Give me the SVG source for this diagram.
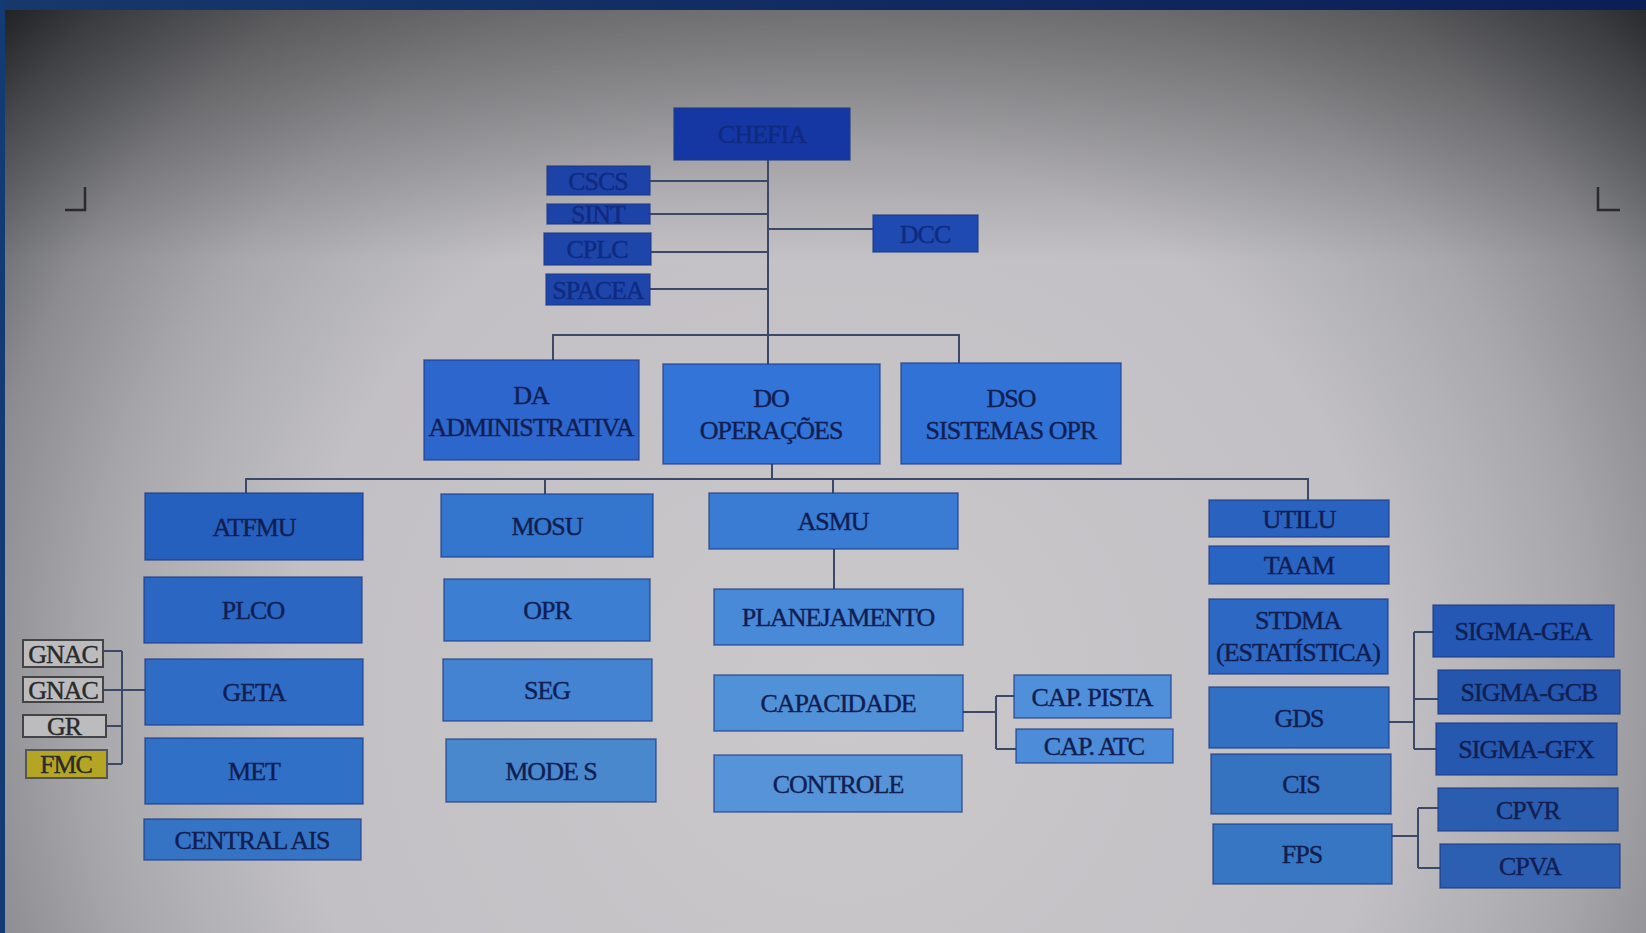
<svg xmlns="http://www.w3.org/2000/svg" width="1646" height="933" viewBox="0 0 1646 933">
<defs>
<radialGradient id="bg" gradientUnits="userSpaceOnUse" cx="840" cy="700" r="1100">
<stop offset="0" stop-color="#cac8ca"/>
<stop offset="0.5" stop-color="#c2c0c4"/>
<stop offset="0.68" stop-color="#a8a8ac"/>
<stop offset="0.8" stop-color="#8c8c90"/>
<stop offset="0.92" stop-color="#5a5c60"/>
<stop offset="1" stop-color="#2c2e32"/>
</radialGradient>
<linearGradient id="topshade" x1="0" y1="0" x2="0" y2="1">
<stop offset="0" stop-color="#000" stop-opacity="0.38"/>
<stop offset="1" stop-color="#000" stop-opacity="0"/>
</linearGradient>
<linearGradient id="frameTop" x1="0" y1="0" x2="1" y2="0">
<stop offset="0" stop-color="#17386a"/>
<stop offset="1" stop-color="#0c1f55"/>
</linearGradient>
</defs>
<style>
.b{stroke:#1d3a86;stroke-width:1.5;stroke-opacity:0.7}
.g{fill:#bcbcbe;stroke:#444;stroke-width:2}
.t{font-family:"Liberation Serif","Times New Roman",serif;font-size:26px;fill:#111e52;stroke:#111e52;stroke-width:0.4;text-anchor:middle;letter-spacing:-1px}
.td{fill:#0f2a80;stroke:#0f2a80}
.tg{fill:#2a2a2a;stroke:#2a2a2a}
.c{fill:none;stroke:#3b4868;stroke-width:2}
.m{fill:none;stroke:#2a2a2e;stroke-width:2.5}
</style>
<rect x="0" y="0" width="1646" height="933" fill="url(#bg)"/>
<rect x="0" y="0" width="1646" height="260" fill="url(#topshade)"/>
<rect x="0" y="0" width="1646" height="10" fill="url(#frameTop)"/>
<rect x="0" y="0" width="5" height="933" fill="#133a72"/>
<path class="m" d="M65 210 H85 V187"/>
<path class="m" d="M1598 187 V210 H1620"/>

<g id="connectors">
<path class="c" d="M768 160 V364"/>
<path class="c" d="M650 181 H768 M650 214 H768 M651 252 H768 M650 289 H768"/>
<path class="c" d="M768 229 H873"/>
<path class="c" d="M553 360 V335 H959 V363"/>
<path class="c" d="M772 464 V479"/>
<path class="c" d="M246 493 V479 H1308 V500"/>
<path class="c" d="M545 479 V494 M833 479 V493"/>
<path class="c" d="M834 549 V589"/>
<path class="c" d="M103 651 H122 M103 690 H145 M106 726 H122 M107 764 H122 M122 651 V764"/>
<path class="c" d="M963 712 H996 M996 696 V749 M996 696 H1014 M996 749 H1016"/>
<path class="c" d="M1389 722 H1414 M1414 632 V749 M1414 632 H1433 M1414 699 H1438 M1414 749 H1436"/>
<path class="c" d="M1392 836 H1418 M1418 808 V868 M1418 808 H1438 M1418 868 H1440"/>
</g>

<g id="chefia"><rect class="b" x="674" y="108" width="176" height="52" fill="#1537a3"/><text class="t td" x="762" y="143">CHEFIA</text></g>
<g id="cscs"><rect class="b" x="547" y="166" width="103" height="29" fill="#1d43a8"/><text class="t td" x="598" y="190">CSCS</text></g>
<g id="sint"><rect class="b" x="547" y="204" width="103" height="20" fill="#1d43a8"/><text class="t td" x="598" y="223">SINT</text></g>
<g id="cplc"><rect class="b" x="544" y="233" width="107" height="32" fill="#1d45aa"/><text class="t td" x="597" y="258">CPLC</text></g>
<g id="spacea"><rect class="b" x="546" y="274" width="104" height="31" fill="#1e46aa"/><text class="t td" x="598" y="299">SPACEA</text></g>
<g id="dcc"><rect class="b" x="873" y="215" width="105" height="37" fill="#1f4ab2"/><text class="t td" x="925" y="243">DCC</text></g>

<g id="da"><rect class="b" x="424" y="360" width="215" height="100" fill="#2d66cc"/><text class="t" x="531" y="404">DA</text><text class="t" x="531" y="436">ADMINISTRATIVA</text></g>
<g id="do"><rect class="b" x="663" y="364" width="217" height="100" fill="#3374d8"/><text class="t" x="771" y="407">DO</text><text class="t" x="771" y="439">OPERAÇÕES</text></g>
<g id="dso"><rect class="b" x="901" y="363" width="220" height="101" fill="#3172d6"/><text class="t" x="1011" y="407">DSO</text><text class="t" x="1011" y="439">SISTEMAS OPR</text></g>

<g id="atfmu"><rect class="b" x="145" y="493" width="218" height="67" fill="#2560be"/><text class="t" x="254" y="536">ATFMU</text></g>
<g id="plco"><rect class="b" x="144" y="577" width="218" height="66" fill="#2a66c2"/><text class="t" x="253" y="619">PLCO</text></g>
<g id="geta"><rect class="b" x="145" y="659" width="218" height="66" fill="#2e6cc6"/><text class="t" x="254" y="701">GETA</text></g>
<g id="met"><rect class="b" x="145" y="738" width="218" height="66" fill="#3070c6"/><text class="t" x="254" y="780">MET</text></g>
<g id="centralais"><rect class="b" x="144" y="819" width="217" height="41" fill="#3574c4"/><text class="t" x="252" y="849">CENTRAL AIS</text></g>
<g id="gnac1"><rect class="g" x="23" y="640" width="80" height="27"/><text class="t tg" x="63" y="663">GNAC</text></g>
<g id="gnac2"><rect class="g" x="23" y="677" width="80" height="25"/><text class="t tg" x="63" y="699">GNAC</text></g>
<g id="gr"><rect class="g" x="23" y="715" width="83" height="22"/><text class="t tg" x="64" y="735">GR</text></g>
<g id="fmc"><rect x="26" y="750" width="81" height="28" fill="#b4a624" stroke="#555" stroke-width="2"/><text class="t tg" x="66" y="773">FMC</text></g>

<g id="mosu"><rect class="b" x="441" y="494" width="212" height="63" fill="#3476ce"/><text class="t" x="547" y="535">MOSU</text></g>
<g id="opr"><rect class="b" x="444" y="579" width="206" height="62" fill="#3c7ed2"/><text class="t" x="547" y="619">OPR</text></g>
<g id="seg"><rect class="b" x="443" y="659" width="209" height="62" fill="#4383d2"/><text class="t" x="547" y="699">SEG</text></g>
<g id="modes"><rect class="b" x="446" y="739" width="210" height="63" fill="#4a88ce"/><text class="t" x="551" y="780">MODE S</text></g>

<g id="asmu"><rect class="b" x="709" y="493" width="249" height="56" fill="#3a7bd4"/><text class="t" x="833" y="530">ASMU</text></g>
<g id="planejamento"><rect class="b" x="714" y="589" width="249" height="56" fill="#4889d8"/><text class="t" x="838" y="626">PLANEJAMENTO</text></g>
<g id="capacidade"><rect class="b" x="714" y="675" width="249" height="56" fill="#5091d8"/><text class="t" x="838" y="712">CAPACIDADE</text></g>
<g id="controle"><rect class="b" x="714" y="755" width="248" height="57" fill="#5693d8"/><text class="t" x="838" y="793">CONTROLE</text></g>
<g id="cappista"><rect class="b" x="1014" y="675" width="157" height="43" fill="#5090da"/><text class="t" x="1092" y="706">CAP. PISTA</text></g>
<g id="capatc"><rect class="b" x="1016" y="729" width="157" height="34" fill="#4c8cd8"/><text class="t" x="1094" y="755">CAP. ATC</text></g>

<g id="utilu"><rect class="b" x="1209" y="500" width="180" height="37" fill="#2a62c0"/><text class="t" x="1299" y="528">UTILU</text></g>
<g id="taam"><rect class="b" x="1209" y="546" width="180" height="38" fill="#2a64c2"/><text class="t" x="1299" y="574">TAAM</text></g>
<g id="stdma"><rect class="b" x="1209" y="599" width="179" height="75" fill="#2c68c4"/><text class="t" x="1298" y="629">STDMA</text><text class="t" x="1298" y="661">(ESTATÍSTICA)</text></g>
<g id="gds"><rect class="b" x="1209" y="687" width="180" height="61" fill="#3270c4"/><text class="t" x="1299" y="727">GDS</text></g>
<g id="cis"><rect class="b" x="1211" y="754" width="180" height="60" fill="#3572c0"/><text class="t" x="1301" y="793">CIS</text></g>
<g id="fps"><rect class="b" x="1213" y="824" width="179" height="60" fill="#3676c2"/><text class="t" x="1302" y="863">FPS</text></g>
<g id="sigmagea"><rect class="b" x="1433" y="605" width="181" height="52" fill="#2458b4"/><text class="t" x="1523" y="640">SIGMA-GEA</text></g>
<g id="sigmagcb"><rect class="b" x="1438" y="670" width="182" height="44" fill="#2456ae"/><text class="t" x="1529" y="701">SIGMA-GCB</text></g>
<g id="sigmagfx"><rect class="b" x="1436" y="723" width="181" height="52" fill="#2658b0"/><text class="t" x="1526" y="758">SIGMA-GFX</text></g>
<g id="cpvr"><rect class="b" x="1438" y="788" width="180" height="43" fill="#2a5cb0"/><text class="t" x="1528" y="819">CPVR</text></g>
<g id="cpva"><rect class="b" x="1440" y="844" width="180" height="44" fill="#2c5eb2"/><text class="t" x="1530" y="875">CPVA</text></g>
</svg>
